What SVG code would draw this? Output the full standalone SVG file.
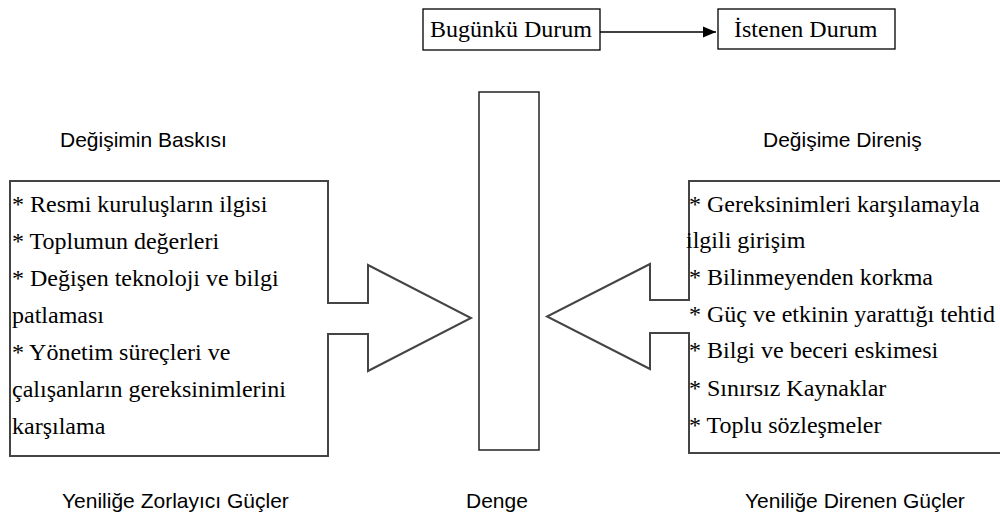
<svg xmlns="http://www.w3.org/2000/svg" width="1000" height="515" viewBox="0 0 1000 515">
  <style>
    .serif { font-family: "Liberation Serif", "Times New Roman", serif; font-size: 24px; fill: #000; }
    .sans { font-family: "Liberation Sans", Arial, sans-serif; font-size: 21px; fill: #000; }
    .box { fill: #fff; stroke: #000; stroke-width: 1.3; }
    .shape { fill: #fff; stroke: #444; stroke-width: 2; stroke-linejoin: miter; }
    .conn { stroke: #000; stroke-width: 1.5; fill: none; }
  </style>
  <defs>
    <marker id="arrow" markerWidth="14" markerHeight="12" refX="13" refY="6" orient="auto" markerUnits="userSpaceOnUse">
      <path d="M0,0.5 L13,6 L0,11.5 Z" fill="#000"/>
    </marker>
  </defs>
  <rect width="1000" height="515" fill="#fff"/>

  <g id="bugunku-durum">
    <rect class="box" x="423" y="9" width="177" height="41"/>
    <text class="serif" x="430" y="37">Bugünkü Durum</text>
  </g>
  <g id="istenen-durum">
    <rect class="box" x="718" y="9" width="177" height="40"/>
    <text class="serif" x="734" y="37">İstenen Durum</text>
  </g>

  <g id="connectors">
    <line class="conn" x1="600" y1="32" x2="716" y2="32" marker-end="url(#arrow)"/>
  </g>

  <g id="denge">
    <rect x="479" y="92" width="60" height="358" fill="#fff" stroke="#222" stroke-width="1.5"/>
    <text class="sans" x="466" y="508">Denge</text>
  </g>

  <g id="zorlayici-gucler">
    <text class="sans" x="60" y="147">Değişimin Baskısı</text>
    <path class="shape" d="M328,303 L328,181 L10,181 L10,456 L328,456 L328,334 L368,334 L368,371 L471,318 L368,265 L368,303 Z"/>
    <text class="serif" x="12" y="212">* Resmi kuruluşların ilgisi</text>
    <text class="serif" x="12" y="249">* Toplumun değerleri</text>
    <text class="serif" x="12" y="286">* Değişen teknoloji ve bilgi</text>
    <text class="serif" x="12" y="323">patlaması</text>
    <text class="serif" x="12" y="360">* Yönetim süreçleri ve</text>
    <text class="serif" x="12" y="397">çalışanların gereksinimlerini</text>
    <text class="serif" x="12" y="434">karşılama</text>
    <text class="sans" x="62" y="508">Yeniliğe Zorlayıcı Güçler</text>
  </g>

  <g id="direnen-gucler">
    <text class="sans" x="763" y="147">Değişime Direniş</text>
    <path class="shape" d="M689,300 L689,181 L1005,181 L1005,453 L689,453 L689,333 L650,333 L650,369 L547,316.5 L650,264 L650,300 Z"/>
    <text class="serif" x="689" y="212">* Gereksinimleri karşılamayla</text>
    <text class="serif" x="686" y="248">ilgili girişim</text>
    <text class="serif" x="689" y="285">* Bilinmeyenden korkma</text>
    <text class="serif" x="689" y="322">* Güç ve etkinin yarattığı tehtid</text>
    <text class="serif" x="689" y="358">* Bilgi ve beceri eskimesi</text>
    <text class="serif" x="689" y="396">* Sınırsız Kaynaklar</text>
    <text class="serif" x="689" y="433">* Toplu sözleşmeler</text>
    <text class="sans" x="745" y="508">Yeniliğe Direnen Güçler</text>
  </g>
</svg>
